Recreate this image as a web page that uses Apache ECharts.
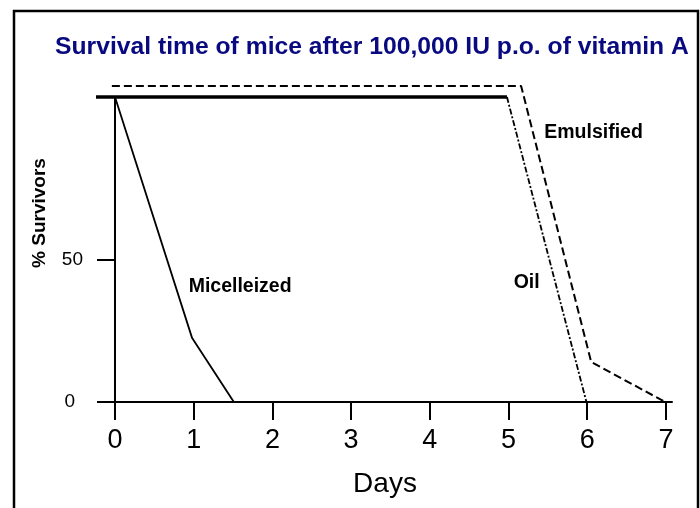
<!DOCTYPE html>
<html>
<head>
<meta charset="utf-8">
<script src="https://cdn.jsdelivr.net/npm/echarts@6/dist/echarts.min.js"></script>
<style>
  html, body { margin: 0; padding: 0; background: #fff; }
  #chart { width: 700px; height: 508px; }
</style>
</head>
<body>
<div id="chart"></div>
<script>
// values (days, % survivors)
var micelDays = [0, 0.98, 1.51];
var micelSurv = [107.4, 22.5, 0];
var plateauDays = [-0.28, 4.98];
var plateauSurv = [107.4, 107.4];
var oilDays = [4.98, 5.99];
var oilSurv = [107.4, 0];
var emulDays = [-0.04, 5.16, 6.05, 6.99];
var emulSurv = [111.3, 111.3, 14.1, 0];
var xTicks = [0, 1, 2, 3, 4, 5, 6, 7];
var yTicks = [0, 50];

function pairs(xs, ys) {
    var out = [];
    for (var i = 0; i < xs.length; i++) {
        out.push([xs[i], ys[i]]);
    }
    return out;
}

function tag(text, coord) {
    return {
        symbol: 'circle',
        symbolSize: 1,
        silent: true,
        itemStyle: { color: 'rgba(0,0,0,0)' },
        label: {
            show: true,
            position: 'inside',
            formatter: text,
            color: '#000',
            fontSize: 19.5,
            fontWeight: 'bold',
            fontFamily: 'Liberation Sans, Arial, sans-serif'
        },
        data: [{ coord: coord }]
    };
}

var myChart = echarts.init(document.getElementById('chart'));
var option = {
    animation: false,
    backgroundColor: '#fff',
    title: {
        text: 'Survival time of mice after 100,000 IU p.o. of vitamin A',
        left: 50,
        top: 30,
        textStyle: {
            color: '#0a0a80',
            fontSize: 24.7,
            fontWeight: 'bold',
            fontFamily: 'Liberation Sans, Arial, sans-serif'
        }
    },
    grid: { left: 98, right: 28, top: 97, bottom: 106 },
    xAxis: {
        type: 'value',
        min: -0.216,
        max: 7.077,
        name: 'Days',
        nameLocation: 'middle',
        nameGap: 68,
        nameTextStyle: { color: '#000', fontSize: 28, fontFamily: 'Liberation Sans, Arial, sans-serif' },
        axisLine: { lineStyle: { color: '#000', width: 2 } },
        axisTick: { customValues: xTicks, length: 18, lineStyle: { color: '#000', width: 2 } },
        axisLabel: {
            customValues: xTicks,
            margin: 25,
            color: '#000',
            fontSize: 27,
            fontFamily: 'Liberation Sans, Arial, sans-serif'
        },
        splitLine: { show: false }
    },
    yAxis: {
        type: 'value',
        min: 0,
        max: 107.4,
        axisLine: { show: true, onZero: true, lineStyle: { color: '#000', width: 2 } },
        axisTick: { show: true, customValues: yTicks, length: 18, lineStyle: { color: '#000', width: 2 } },
        axisLabel: {
            customValues: yTicks,
            margin: 15,
            color: '#000',
            fontSize: 19,
            fontFamily: 'Liberation Sans, Arial, sans-serif',
            formatter: function (v) { return v === 0 ? '{z|0}' : '{n|' + v + '}'; },
            rich: {
                z: { fontSize: 19, color: '#000', padding: [0, 8, 0, 0] },
                n: { fontSize: 19, color: '#000' }
            }
        },
        splitLine: { show: false }
    },
    graphic: [
        {
            type: 'rect',
            shape: { x: 14, y: 11, width: 684, height: 620 },
            style: { fill: 'none', stroke: '#000', lineWidth: 2.5 },
            silent: true
        },
        {
            type: 'text',
            x: 40,
            y: 213,
            rotation: Math.PI / 2,
            style: {
                text: '% Survivors',
                fill: '#000',
                fontSize: 19,
                fontWeight: 'bold',
                fontFamily: 'Liberation Sans, Arial, sans-serif',
                align: 'center',
                verticalAlign: 'middle'
            },
            silent: true
        }
    ],
    series: [
        {
            name: 'Micelleized',
            type: 'line',
            data: pairs(micelDays, micelSurv),
            showSymbol: false,
            clip: false,
            lineStyle: { color: '#000', width: 1.8 },
            markPoint: tag('Micelleized', [1.59, 40.5])
        },
        {
            name: 'Plateau',
            type: 'line',
            data: pairs(plateauDays, plateauSurv),
            showSymbol: false,
            clip: false,
            lineStyle: { color: '#000', width: 3.5 }
        },
        {
            name: 'Oil',
            type: 'line',
            data: pairs(oilDays, oilSurv),
            showSymbol: false,
            clip: false,
            lineStyle: { color: '#000', width: 1.8, type: [6, 2, 2, 2] },
            markPoint: tag('Oil', [5.23, 41.9])
        },
        {
            name: 'Emulsified',
            type: 'line',
            data: pairs(emulDays, emulSurv),
            showSymbol: false,
            clip: false,
            lineStyle: { color: '#000', width: 2, type: [8, 4] },
            markPoint: tag('Emulsified', [6.08, 94.7])
        }
    ]
};
myChart.setOption(option);
</script>
</body>
</html>
